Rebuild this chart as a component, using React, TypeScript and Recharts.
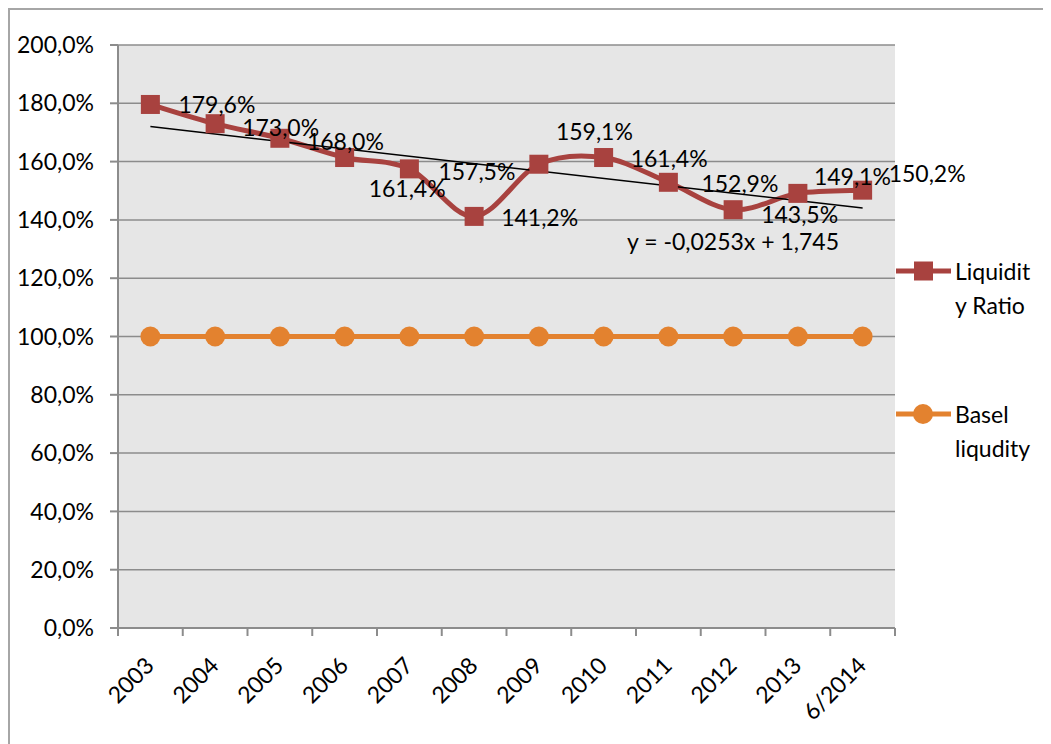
import { LineChart, Line, XAxis, YAxis, CartesianGrid, LabelList } from "recharts";

const years = ["2003", "2004", "2005", "2006", "2007", "2008", "2009", "2010", "2011", "2012", "2013", "6/2014"];
const liquidityRatio = [179.6, 173.0, 168.0, 161.4, 157.5, 141.2, 159.1, 161.4, 152.9, 143.5, 149.1, 150.2];
const baselLiquidity = [100, 100, 100, 100, 100, 100, 100, 100, 100, 100, 100, 100];
// linear trend, only its two ends (line drawn between them)
const trendLine = [172.0, null, null, null, null, null, null, null, null, null, null, 144.1];
const yTicks = [0, 20, 40, 60, 80, 100, 120, 140, 160, 180, 200];

const data = years.map((year, i) => ({
  year,
  liquidity: liquidityRatio[i],
  basel: baselLiquidity[i],
  trend: trendLine[i],
}));

// where each data label sits relative to its point (dx, dy)
const labelShift = [
  [28, 0], [27, 3], [27, 3], [24, 30], [29, 2], [27, 1],
  [17, -33], [27, 0], [33, 1], [28, 4], [16, -17], [26, -17],
];

const FONT = "Lato, 'Open Sans', sans-serif";
const FS = 23;
const RED = "#A8423F";
const ORANGE = "#E3822F";
const GRID = "#8C8C8C";
const W = 1041;
const H = 734;
const M = { top: 35, right: 156, bottom: 16, left: 0 };
const Y_W = 108;
const HALF_BAND = (W - M.right - Y_W) / years.length / 2;

const fmt = (v: number) => v.toFixed(1).replace(".", ",") + "%";

// Excel-like smoothing (Catmull-Rom through the points)
function smoothCurve(context: any) {
  let pts: [number, number][] = [];
  return {
    areaStart() {},
    areaEnd() {},
    lineStart() {
      pts = [];
    },
    lineEnd() {
      const n = pts.length;
      if (!n) return;
      context.moveTo(pts[0][0], pts[0][1]);
      for (let i = 0; i < n - 1; i++) {
        const p0 = pts[Math.max(i - 1, 0)];
        const p1 = pts[i];
        const p2 = pts[i + 1];
        const p3 = pts[Math.min(i + 2, n - 1)];
        context.bezierCurveTo(
          p1[0] + (p2[0] - p0[0]) / 6,
          p1[1] + (p2[1] - p0[1]) / 6,
          p2[0] - (p3[0] - p1[0]) / 6,
          p2[1] - (p3[1] - p1[1]) / 6,
          p2[0],
          p2[1]
        );
      }
    },
    point(x: number, y: number) {
      pts.push([x, y]);
    },
  };
}

const SquareDot = (props: any) => {
  const { cx, cy } = props;
  if (cx == null || cy == null) return null;
  return <rect x={cx - 9.5} y={cy - 9.5} width={19} height={19} fill={RED} />;
};

const RoundDot = (props: any) => {
  const { cx, cy } = props;
  if (cx == null || cy == null) return null;
  return <circle cx={cx} cy={cy} r={10} fill={ORANGE} />;
};

const XTick = (props: any) => {
  const { x, y, payload, index } = props;
  const axisY = y - 8;
  return (
    <g>
      <line x1={x - HALF_BAND} y1={axisY} x2={x - HALF_BAND} y2={axisY + 8} stroke={GRID} strokeWidth={2} />
      {index === years.length - 1 && (
        <line x1={x + HALF_BAND} y1={axisY} x2={x + HALF_BAND} y2={axisY + 8} stroke={GRID} strokeWidth={2} />
      )}
      <text
        x={x + 5}
        y={y + 31}
        textAnchor="end"
        transform={`rotate(-45 ${x + 5} ${y + 31})`}
        fontFamily={FONT}
        fontSize={FS}
        fill="#000"
      >
        {payload.value}
      </text>
    </g>
  );
};

const PointLabel = (props: any) => {
  const { x, y, value, index } = props;
  const [dx, dy] = labelShift[index] || [28, 0];
  return (
    <text x={x + dx} y={y + dy} dominantBaseline="central" fontFamily={FONT} fontSize={FS} fill="#000">
      {fmt(value)}
    </text>
  );
};

const textStyle = { fontFamily: FONT, fontSize: FS, color: "#000", lineHeight: "34px" };

export default function App() {
  return (
    <div
      style={{
        position: "relative",
        width: 1043,
        height: 736,
        borderLeft: "2px solid #A6A6A6",
        borderTop: "2px solid #A6A6A6",
        boxSizing: "border-box",
        background: "#fff",
      }}
    >
      <LineChart width={W} height={H} data={data} margin={M}>
        <CartesianGrid vertical={false} fill="#E6E6E6" stroke={GRID} strokeWidth={1.5} />
        <XAxis
          dataKey="year"
          interval={0}
          height={100}
          padding={{ left: HALF_BAND, right: HALF_BAND }}
          tickLine={false}
          axisLine={{ stroke: GRID, strokeWidth: 2 }}
          tick={<XTick />}
        />
        <YAxis
          width={Y_W}
          domain={[0, 200]}
          ticks={yTicks}
          tickSize={8}
          tickMargin={16}
          tickFormatter={fmt}
          axisLine={{ stroke: GRID, strokeWidth: 2 }}
          tickLine={{ stroke: GRID, strokeWidth: 2 }}
          tick={{ fontFamily: FONT, fontSize: FS, fill: "#000" }}
        />
        <Line
          dataKey="basel"
          stroke={ORANGE}
          strokeWidth={5}
          type="linear"
          dot={<RoundDot />}
          activeDot={false}
          isAnimationActive={false}
        />
        <Line
          dataKey="liquidity"
          stroke={RED}
          strokeWidth={5}
          type={smoothCurve as any}
          dot={<SquareDot />}
          activeDot={false}
          isAnimationActive={false}
        >
          <LabelList dataKey="liquidity" content={<PointLabel />} />
        </Line>
        <Line
          dataKey="trend"
          stroke="#000"
          strokeWidth={1.5}
          type="linear"
          dot={false}
          activeDot={false}
          connectNulls
          isAnimationActive={false}
        />
      </LineChart>

      <div style={{ ...textStyle, position: "absolute", left: 617, top: 214, whiteSpace: "nowrap" }}>
        y = -0,0253x + 1,745
      </div>

      <svg style={{ position: "absolute", left: 886, top: 249 }} width={56} height={24}>
        <line x1={0} y1={12} x2={55} y2={12} stroke={RED} strokeWidth={5} />
        <rect x={18} y={2.5} width={19} height={19} fill={RED} />
      </svg>
      <div style={{ ...textStyle, position: "absolute", left: 945, top: 244 }}>
        Liquidit
        <br />y Ratio
      </div>

      <svg style={{ position: "absolute", left: 886, top: 392 }} width={56} height={24}>
        <line x1={0} y1={12} x2={55} y2={12} stroke={ORANGE} strokeWidth={5} />
        <circle cx={27} cy={12} r={10} fill={ORANGE} />
      </svg>
      <div style={{ ...textStyle, position: "absolute", left: 945, top: 387 }}>
        Basel
        <br />
        liqudity
      </div>
    </div>
  );
}
